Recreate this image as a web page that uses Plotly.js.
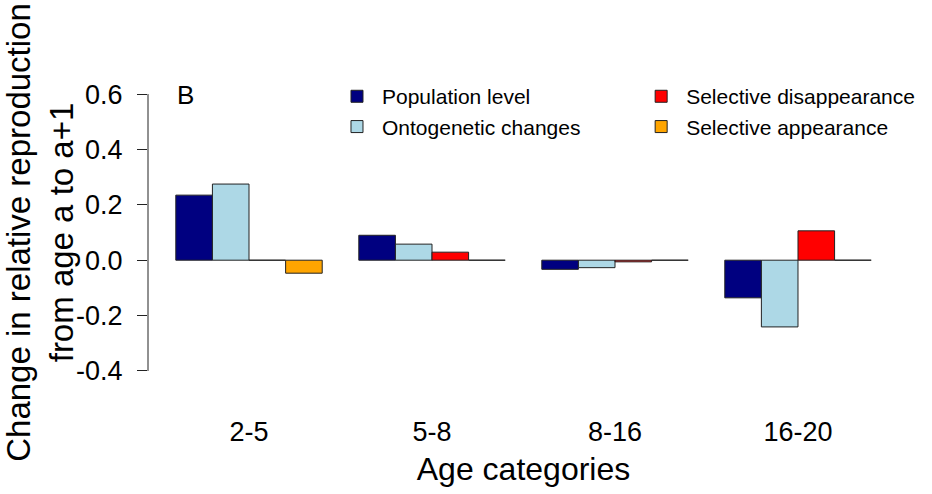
<!DOCTYPE html>
<html><head><meta charset="utf-8">
<script src="https://cdn.plot.ly/plotly-3.0.1.min.js"></script>
<style>html,body{margin:0;padding:0;background:#fff}#chart{width:932px;height:494px}</style>
</head><body><div id="chart"></div>
<script>
const categories = ['2-5', '5-8', '8-16', '16-20'];
const populationLevel = [0.235, 0.090, -0.033, -0.136];
const ontogeneticChanges = [0.275, 0.058, -0.027, -0.241];
const selectiveDisappearance = [0.0, 0.029, -0.006, 0.106];
const selectiveAppearance = [-0.047, 0.0, 0.0, 0.0];
const seriesNames = ['Population level', 'Ontogenetic changes', 'Selective disappearance', 'Selective appearance'];
const seriesColors = ['#000080', '#ADD8E6', '#FF0000', '#FFA500'];
const yTickValues = [-0.4, -0.2, 0, 0.2, 0.4, 0.6];
const yTickLabels = ['-0.4', '-0.2', '0.0', '0.2', '0.4', '0.6'];
const panelLabel = 'B';
const xTitle = 'Age categories';
const yTitle = 'Change in relative reproduction<br>from age a to a+1';

const seriesValues = [populationLevel, ontogeneticChanges, selectiveDisappearance, selectiveAppearance];
const legendIds = ['legend', 'legend', 'legend2', 'legend2'];

const traces = seriesValues.map((vals, i) => ({
  type: 'bar',
  name: seriesNames[i],
  x: categories,
  y: vals,
  legend: legendIds[i],
  marker: {color: seriesColors[i], line: {color: '#222', width: 1}},
  hoverinfo: 'skip'
}));

const font = {family: 'Liberation Sans, Arial, sans-serif', color: '#000'};

const layout = {
  width: 932, height: 494,
  margin: {l: 148, r: 33, t: 83, b: 112},
  paper_bgcolor: '#fff', plot_bgcolor: '#fff',
  font: font,
  barmode: 'group', bargap: 0.2, bargroupgap: 0,
  showlegend: true,
  xaxis: {
    type: 'category', range: [-0.552, 3.552],
    showline: false, showgrid: false, zeroline: false,
    ticks: '', ticklabelstandoff: 31,
    tickfont: {size: 27, family: font.family, color: '#000'},
    title: {text: xTitle, font: {size: 32, family: font.family, color: '#000'}, standoff: 11},
    automargin: false
  },
  yaxis: {
    range: [-0.44, 0.64],
    showline: false, showgrid: false, zeroline: false,
    tickvals: yTickValues, ticktext: yTickLabels,
    ticks: 'outside', ticklen: 10, tickwidth: 1, tickcolor: '#222',
    ticklabelstandoff: 9,
    tickfont: {size: 27, family: font.family, color: '#000'},
    title: {text: yTitle, font: {size: 33, family: font.family, color: '#000'}, standoff: 2},
    automargin: false
  },
  legend: {
    x: 0.245, y: 1.023, xanchor: 'left', yanchor: 'top',
    bgcolor: 'rgba(0,0,0,0)', borderwidth: 0, itemwidth: 40,
    font: {size: 21, family: font.family, color: '#000'},
    tracegroupgap: 0, itemclick: false
  },
  legend2: {
    x: 0.65, y: 1.023, xanchor: 'left', yanchor: 'top',
    bgcolor: 'rgba(0,0,0,0)', borderwidth: 0, itemwidth: 40,
    font: {size: 21, family: font.family, color: '#000'},
    tracegroupgap: 0, itemclick: false
  },
  shapes: [{
    type: 'line', xref: 'paper', yref: 'y',
    x0: 0, x1: 0, y0: yTickValues[0], y1: yTickValues[yTickValues.length - 1],
    line: {color: '#222', width: 1}
  }],
  annotations: [{
    text: panelLabel, xref: 'paper', yref: 'paper',
    x: 0.036, y: 0.96, xanchor: 'left', yanchor: 'middle',
    showarrow: false, font: {size: 26, family: font.family, color: '#000'}
  }]
};

Plotly.newPlot('chart', traces, layout, {staticPlot: true, displayModeBar: false});
</script>
</body></html>
